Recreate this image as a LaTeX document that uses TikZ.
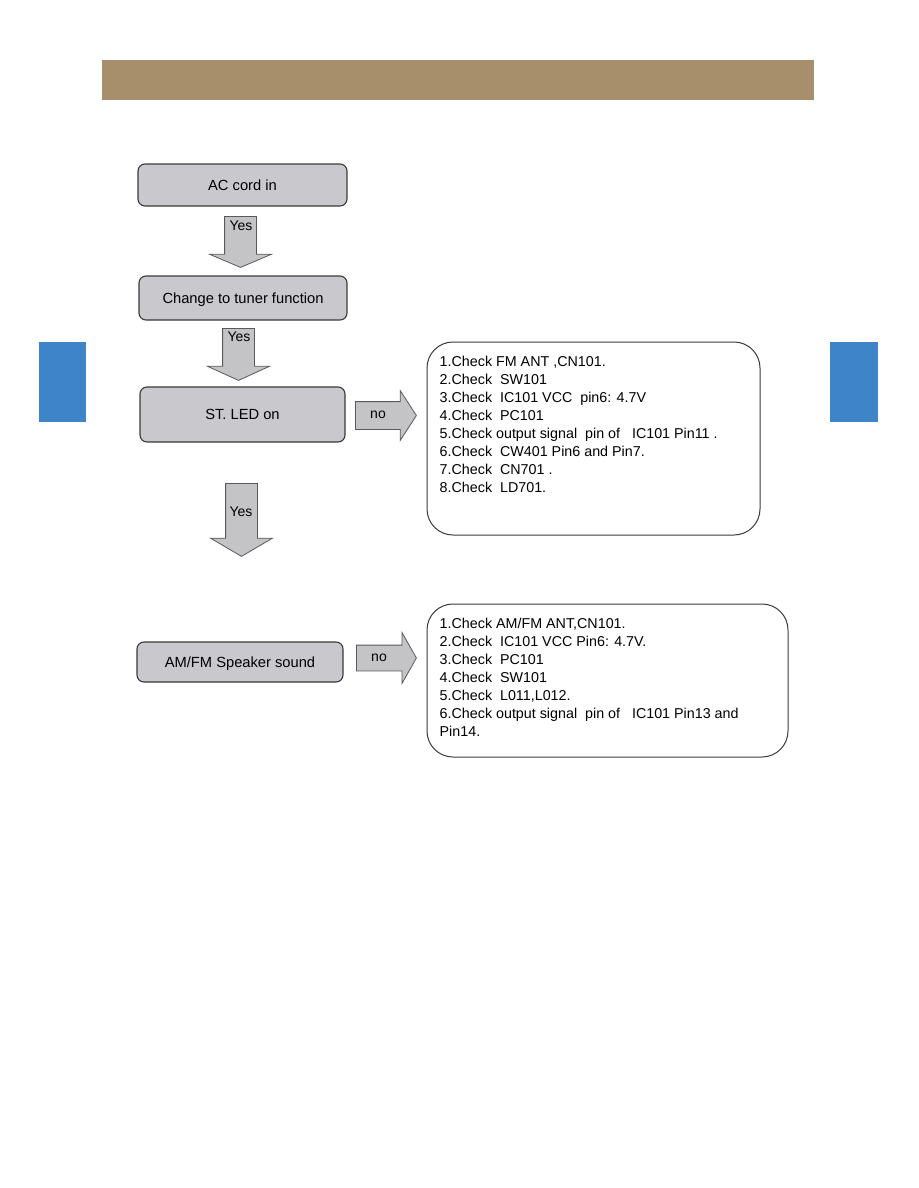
\documentclass[tikz,border=0pt]{standalone}
\usepackage{fontspec}
\setmainfont{Liberation Sans}
\usepackage{xcolor}
\definecolor{bandbrown}{HTML}{A88F6C}
\definecolor{tabblue}{HTML}{3D84C8}
\definecolor{boxgray}{HTML}{C9C9CD}
\definecolor{arrowgray}{HTML}{C4C4C6}
\definecolor{edgegray}{HTML}{3A3A3A}
\usepackage{tikz}
\usetikzlibrary{shapes.arrows,positioning}

\begin{document}
\begin{tikzpicture}[
  x=1pt,y=-1pt,
  every node/.style={font=\fontsize{14}{18}\selectfont},
  stepbox/.style={rectangle,draw=edgegray,line width=1.1pt,rounded corners=7pt,fill=boxgray,
    font=\fontsize{14.7}{17}\selectfont,text height=10.5pt,text depth=0pt},
  checkbox/.style={rectangle,draw=edgegray,line width=1pt,rounded corners=26pt},
  listtext/.style={align=left,inner sep=0pt,font=\fontsize{14.3}{18.1}\selectfont},
  downarr/.style={single arrow,draw=gray!70!black,fill=arrowgray,line width=0.8pt,inner xsep=0pt,
    inner ysep=15.5pt,single arrow head extend=15pt,rotate=-90,anchor=tail},
  noarr/.style={single arrow,draw=gray!70!black,fill=arrowgray,line width=0.8pt,inner xsep=0pt,anchor=tail},
]
\useasboundingbox (0,0) rectangle (918,1188);

% header band and side tabs
\fill[bandbrown] (102,60) rectangle (814,100);
\fill[tabblue] (39,342) rectangle (86,422);
\fill[tabblue] (830,342) rectangle (878,422);

% main steps
\node[stepbox,minimum width=209pt,minimum height=42pt] (ac) at (242.5,185) {AC cord in};
\node[stepbox,minimum width=208pt,minimum height=44pt] (tuner) at (243,298) {Change to tuner function};
\node[stepbox,minimum width=205pt,minimum height=55pt] (led) at (242.5,414.5) {ST. LED on};
\node[stepbox,minimum width=206pt,minimum height=40pt] (amfm) at (240,662) {AM/FM Speaker sound};

% yes arrows
\node[downarr,minimum height=51pt,single arrow tip angle=134] (yes1) at (240.5,216) {};
\node (yes1lbl) at (241,226) {Yes};
\node[downarr,minimum height=52pt,single arrow tip angle=131] (yes2) at (238.5,328) {};
\node (yes2lbl) at (239,337) {Yes};
\node[downarr,minimum height=73pt,single arrow tip angle=119] (yes3) at (241.5,483) {};
\node (yes3lbl) at (241,512) {Yes};

% no arrows
\node[noarr,minimum height=61pt,inner ysep=13.5pt,single arrow head extend=11pt,single arrow tip angle=114] (no1) at (355,415.5) {};
\node (no1lbl) at (378,415) {no};
\node[noarr,minimum height=60pt,inner ysep=12.5pt,single arrow head extend=12.5pt,single arrow tip angle=121] (no2) at (356,658) {};
\node (no2lbl) at (379,658) {no};

% check lists
\node[checkbox,minimum width=333pt,minimum height=193pt] (checkA) at (593.5,438.5) {};
\node[listtext,below right=14pt and 13pt of checkA.north west] (listA) {%
1.Check FM ANT ,CN101.\\
2.Check~ SW101\\
3.Check~ IC101 VCC~ pin6: 4.7V\\
4.Check~ PC101\\
5.Check output signal~ pin of~~ IC101 Pin11 .\\
6.Check~ CW401 Pin6 and Pin7.\\
7.Check~ CN701 .\\
8.Check~ LD701.};

\node[checkbox,minimum width=361pt,minimum height=153pt] (checkB) at (607.5,680.5) {};
\node[listtext,below right=14pt and 13pt of checkB.north west] (listB) {%
1.Check AM/FM ANT,CN101.\\
2.Check~ IC101 VCC Pin6: 4.7V.\\
3.Check~ PC101\\
4.Check~ SW101\\
5.Check~ L011,L012.\\
6.Check output signal~ pin of~~ IC101 Pin13 and\\
Pin14.};
\end{tikzpicture}
\end{document}
